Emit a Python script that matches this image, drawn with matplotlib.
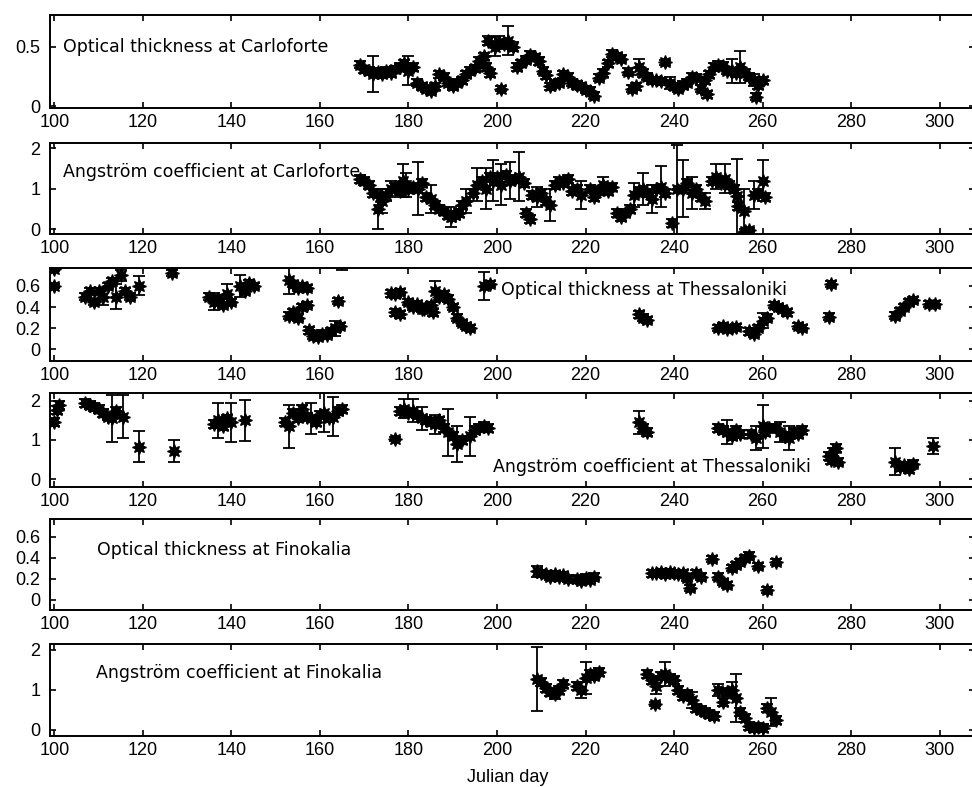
import numpy as np
import matplotlib
matplotlib.use('Agg')
import matplotlib.pyplot as plt

plt.rcParams['font.family'] = ['Liberation Sans', 'DejaVu Sans']

# rows: (julian day, value, error)
carloforte_tau = [
    (169, .35, .03), (170, .31, .03), (171, .30, .03), (172, .27, .15), (173, .29, .03), (174, .27, .03),
    (175, .30, .03), (176, .28, .03), (177, .31, .03), (178, .33, .03), (179, .36, .03), (180, .30, .12),
    (181, .33, .03), (182, .20, .03), (183, .17, .03), (184, .15, .03), (185, .13, .03), (186, .17, .03),
    (187, .27, .03), (188, .25, .03), (189, .20, .03), (190, .17, .03), (191, .20, .03), (192, .22, .03),
    (193, .27, .03), (194, .30, .03), (195, .32, .03), (196, .38, .03), (197, .42, .03), (197.5, .33, .03),
    (198, .55, .04), (198.5, .28, .03), (199.5, .50, .08), (200.5, .54, .05), (201, .15, .02), (201.5, .52, .04),
    (202.5, .55, .12), (203.5, .50, .04), (204.5, .33, .03), (205.5, .36, .03), (206.5, .39, .03), (207.5, .43, .03),
    (208.5, .41, .03), (209.5, .38, .03), (210.5, .30, .03), (211, .26, .03), (212, .17, .03), (213, .19, .03),
    (214, .20, .03), (215, .27, .03), (216, .25, .03), (217, .20, .03), (218, .18, .03), (219, .17, .03),
    (220, .14, .03), (221, .13, .03), (222, .09, .03), (223, .24, .03), (224, .28, .03), (225, .36, .03),
    (226, .44, .03), (227, .42, .03), (228, .40, .03), (229.5, .29, .03), (230.5, .15, .03), (231.5, .17, .03),
    (232, .33, .07), (233, .28, .03), (234, .25, .03), (235, .22, .03), (236, .22, .03), (237, .21, .03),
    (238, .37, .02), (239, .20, .05), (240, .17, .03), (241, .15, .03), (242, .18, .03), (243, .20, .03),
    (244, .25, .03), (245, .24, .03), (246, .15, .03), (247, .22, .03), (247.5, .10, .03), (248, .27, .03),
    (249, .33, .03), (250, .35, .03), (251, .34, .03), (252, .30, .03), (253, .30, .10), (254, .28, .03),
    (255, .33, .13), (256, .28, .03), (257, .25, .03), (258, .22, .05), (258.5, .08, .03), (259, .18, .03),
    (260, .22, .03),
]

carloforte_alpha = [
    (169, 1.25, .1), (170, 1.2, .1), (171, 1.1, .1), (172, .9, .1), (173, .5, .5), (173.5, .8, .2),
    (174, .7, .3), (175, .85, .15), (176, 1.0, .2), (177, 1.05, .1), (178, .95, .1), (178.7, 1.2, .4),
    (179.5, 1.1, .3), (180, 1.0, .1), (181, 1.05, .1), (182.2, 1.0, .66), (183, 1.15, .1), (184, .8, .1),
    (185, .75, .35), (186, .6, .1), (187, .5, .1), (188, .45, .1), (189, .35, .1), (189.5, .3, .25),
    (190.5, .35, .1), (191.5, .4, .1), (192, .6, .1), (193, .7, .3), (194.5, .9, .1), (195.5, 1.1, .4),
    (196.5, 1.2, .1), (197.5, 1.0, .5), (198.5, 1.3, .1), (199, 1.2, .5), (200, 1.3, .1), (201, 1.1, .5),
    (202, 1.35, .1), (203, 1.2, .45), (204, 1.25, .1), (205, 1.3, .6), (206, 1.15, .1), (206.5, .4, .1),
    (207.5, .25, .1), (208, .85, .1), (209, .8, .25), (210, .9, .1), (211, .7, .1), (212, .6, .4),
    (213, 1.1, .1), (214, 1.2, .1), (215, 1.15, .1), (216, 1.25, .1), (217, .95, .1), (218, 1.0, .1),
    (219, .85, .35), (221, 1.0, .1), (222, .8, .1), (223, .95, .1), (224, 1.1, .2), (225, .95, .1),
    (226, 1.05, .1), (227, .4, .1), (228, .3, .1), (229, .4, .1), (230, .5, .1), (231, .85, .3),
    (232, .95, .1), (233, 1.0, .4), (234, .9, .1), (235, .75, .35), (236, 1.0, .1), (237, 1.05, .5),
    (238, .9, .1), (239.5, .15, .1), (240.7, .99, 1.1), (242, 1.0, .7), (243, 1.15, .1), (244, .9, .4),
    (245, 1.0, .1), (246, .8, .1), (247, .7, .2), (248.5, 1.2, .1), (249.5, 1.3, .3), (250.5, 1.15, .1),
    (251.5, 1.25, .35), (252.5, 1.1, .1), (253.5, 1.0, .1), (254.3, .81, .93), (254.5, .58, .1),
    (255.7, .45, .55), (256, -.04, .05), (257, -.03, .05), (258, .85, .35), (259, .9, .1), (260, 1.2, .5),
    (260.5, .8, .1),
]

thessaloniki_tau = [
    (100, .76, .02), (100, .60, .02), (107, .50, .03), (108, .55, .03), (109, .45, .03), (110, .55, .03),
    (111, .50, .08), (112, .60, .03), (113, .65, .03), (114, .50, .12), (115, .70, .05), (116, .55, .03),
    (117, .50, .03), (119, .60, .09), (126.5, .72, .03), (135, .50, .03), (136, .45, .08), (137, .48, .03),
    (138, .42, .03), (139, .52, .10), (140, .45, .03), (142, .60, .10), (143, .55, .03), (144, .63, .03),
    (145, .60, .03), (153, .66, .14), (154, .62, .03), (155, .58, .03), (156, .60, .03), (157, .58, .03),
    (153, .32, .03), (154, .35, .03), (155, .30, .03), (156, .40, .03), (157, .42, .03), (157.5, .18, .03),
    (158.5, .13, .03), (159.5, .12, .03), (160.5, .15, .03), (161.5, .14, .03), (162.5, .17, .03),
    (163.5, .20, .07), (164.5, .22, .03), (164, .46, .03), (165, .90, .15), (176, .53, .03), (177, .52, .03),
    (178, .54, .03), (177, .35, .03), (178, .33, .03), (180, .45, .03), (181, .40, .03), (182, .43, .03),
    (183, .38, .03), (184, .40, .03), (185, .42, .03), (183.5, .38, .03), (185.5, .35, .03), (186, .55, .10),
    (187, .50, .03), (188, .52, .03), (189, .48, .03), (190, .40, .03), (191, .30, .03), (192, .25, .03),
    (193, .22, .03), (194, .20, .03), (197, .60, .13), (198.5, .62, .03), (232, .33, .03), (233, .30, .03),
    (234, .28, .03), (250, .20, .03), (251, .22, .03), (252, .19, .03), (253, .20, .03), (254, .21, .03),
    (257, .17, .03), (258, .15, .03), (259, .20, .03), (260, .27, .07), (261, .30, .03), (262.5, .42, .03),
    (263.5, .40, .03), (264.5, .38, .03), (265.5, .35, .03), (268, .22, .03), (269, .20, .03),
    (275.5, .62, .03), (275, .31, .03), (290, .32, .03), (291, .36, .03), (292, .40, .03), (293, .45, .03),
    (294, .47, .03), (297.5, .43, .03), (299, .43, .03),
]

thessaloniki_alpha = [
    (100, 1.47, .1), (100.5, 1.76, .1), (101, 1.9, .1), (107, 1.95, .1), (108, 1.9, .1), (109, 1.85, .1),
    (110, 1.8, .1), (111, 1.7, .1), (112, 1.6, .1), (113, 1.55, .6), (114, 1.75, .1), (115.5, 1.6, .55),
    (119, .83, .4), (127, .72, .28), (136, 1.4, .1), (137, 1.5, .45), (138, 1.35, .1), (139, 1.55, .1),
    (140, 1.45, .5), (143, 1.5, .52), (152, 1.45, .1), (153, 1.35, .55), (154, 1.7, .1), (155, 1.55, .1),
    (156, 1.8, .1), (157, 1.6, .1), (158, 1.55, .4), (159, 1.45, .1), (160, 1.65, .1), (161, 1.7, .5),
    (162, 1.55, .1), (163, 1.6, .5), (164, 1.75, .1), (165, 1.8, .1), (177, 1.03, .05), (178, 1.75, .1),
    (179, 1.8, .25), (180, 1.7, .1), (181, 1.75, .3), (182, 1.65, .1), (183, 1.55, .3), (184, 1.5, .1),
    (185, 1.45, .1), (186, 1.4, .25), (187, 1.5, .1), (188, 1.3, .1), (189, 1.2, .6), (190, 1.1, .1),
    (191, .9, .45), (192, 1.0, .1), (194, 1.1, .5), (195, 1.25, .1), (196, 1.3, .1), (197, 1.35, .1),
    (198, 1.3, .1), (232, 1.45, .3), (233, 1.3, .1), (234, 1.2, .1), (250, 1.3, .1), (251, 1.25, .1),
    (252, 1.2, .3), (253, 1.1, .1), (254, 1.25, .1), (255, 1.15, .1), (257.5, 1.15, .1), (258.5, 1.05, .3),
    (260, 1.35, .55), (260.5, 1.2, .1), (261.5, 1.3, .1), (263, 1.3, .1), (264, 1.2, .25), (265, 1.1, .1),
    (266, 1.05, .3), (267, 1.2, .1), (268, 1.15, .1), (269, 1.25, .1), (275, .6, .1), (275.5, .5, .1),
    (276, .7, .1), (276.5, .8, .1), (277, .45, .1), (290, .45, .35), (291, .3, .1), (292, .35, .1),
    (293, .25, .1), (294, .4, .1), (298.5, .85, .2),
]

finokalia_tau = [
    (209, .27, .05), (210, .25, .03), (211, .24, .03), (212, .22, .03), (213, .24, .03), (214, .22, .03),
    (215, .23, .03), (216, .20, .03), (218, .20, .03), (219, .18, .03), (220, .21, .03), (221, .19, .03),
    (222, .22, .03), (235, .25, .03), (236, .25, .03), (237, .26, .03), (238, .24, .03), (239, .26, .03),
    (240, .25, .03), (241, .24, .03), (242, .25, .03), (243, .21, .03), (243.7, .11, .03), (245, .25, .03),
    (246, .22, .03), (248.6, .39, .03), (250, .22, .03), (251, .17, .03), (252, .14, .03), (253, .30, .03),
    (254, .33, .03), (255, .36, .03), (256, .40, .03), (257, .42, .03), (259, .32, .03), (261, .09, .03),
    (263, .36, .03),
]

finokalia_alpha = [
    (209, 1.28, .8), (210, 1.2, .1), (211, 1.05, .1), (212, .95, .1), (213, .9, .12), (214, 1.0, .1),
    (215, 1.15, .1), (218, 1.1, .1), (219, 1.0, .2), (220, 1.3, .4), (221, 1.4, .1), (222, 1.35, .1),
    (223, 1.45, .1), (234, 1.4, .1), (235, 1.25, .1), (235.8, .65, .05), (236, 1.1, .2), (237, 1.35, .1),
    (238, 1.4, .3), (239, 1.3, .1), (240, 1.25, .1), (241, 1.0, .1), (242, .85, .1), (243, .9, .1),
    (244, .75, .2), (245, .55, .1), (246, .5, .1), (247, .45, .1), (248, .4, .1), (249, .35, .1),
    (250, 1.0, .15), (251, .7, .1), (252, .95, .1), (253, 1.0, .2), (254, .8, .6), (255, .45, .1),
    (256, .3, .1), (257, .1, .1), (258, .05, .1), (259, .08, .1), (260, .05, .1), (261, .55, .1),
    (262, .45, .35), (263, .25, .1),
]

xticks = list(range(100, 301, 20))
tau_ticks = [0, 0.2, 0.4, 0.6]
alpha_ticks = [0, 1, 2]

W, H = 972, 787
fig = plt.figure(figsize=(W / 100, H / 100), dpi=100)

# (rows, top px, bottom px, ylim, yticks, label, label position)
panels = [
    (carloforte_tau, 15, 108, (-0.013, 0.765), [0, 0.5], 'Optical thickness at Carloforte', (101.9, 0.5)),
    (carloforte_alpha, 143, 234, (-0.12, 2.13), alpha_ticks, 'Angström coefficient at Carloforte', (102, 1.41)),
    (thessaloniki_tau, 268, 361, (-0.11, 0.77), tau_ticks, 'Optical thickness at Thessaloniki', (201, 0.56)),
    (thessaloniki_alpha, 393, 487, (-0.2, 2.2), alpha_ticks, 'Angström coefficient at Thessaloniki', (199, 0.31)),
    (finokalia_tau, 519, 610, (-0.1, 0.77), tau_ticks, 'Optical thickness at Finokalia', (109.6, 0.47)),
    (finokalia_alpha, 644, 736, (-0.15, 2.15), alpha_ticks, 'Angström coefficient at Finokalia', (109.4, 1.43)),
]

for rows, top, bot, ylim, yt, label, (tx, ty) in panels:
    ax = fig.add_axes([50 / W, 1 - bot / H, 925 / W, (bot - top) / H])
    d, v, e = np.array(rows).T
    ax.errorbar(d, v, yerr=e, fmt='none', ecolor='k', elinewidth=1.3, capsize=4, capthick=1.3)
    ax.plot(d, v, ls='none', marker=(8, 1, 0), ms=10, color='k', mec='k')
    ax.set_xlim(99, 308)
    ax.set_ylim(*ylim)
    ax.set_xticks(xticks)
    ax.set_yticks(yt)
    ax.set_yticklabels(['%g' % t for t in yt])
    ax.tick_params(direction='in', top=True, right=True, length=4, width=1.2, labelsize=13)
    ax.tick_params(axis='x', pad=4)
    ax.tick_params(axis='y', pad=7)
    for s in ax.spines.values():
        s.set_linewidth(1.4)
    ax.text(tx, ty, label, ha='left', va='center', fontsize=12.5, family='DejaVu Sans')

fig.text(508 / W, 1 - 778 / H, 'Julian day', ha='center', va='center', fontsize=13)

fig.savefig('out.png', dpi=100)
